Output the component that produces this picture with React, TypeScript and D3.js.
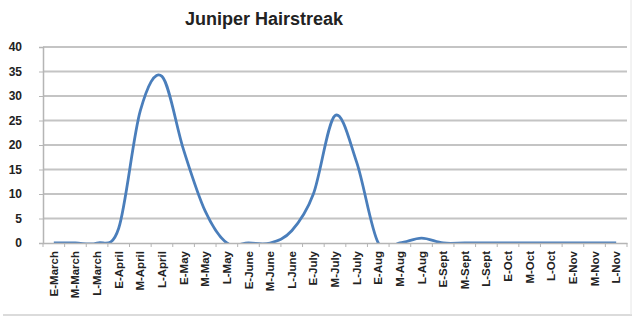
import React, { useEffect, useRef } from 'react';
import * as d3 from 'd3';

const periods = [
  'E-March', 'M-March', 'L-March', 'E-April', 'M-April', 'L-April', 'E-May', 'M-May', 'L-May',
  'E-June', 'M-June', 'L-June', 'E-July', 'M-July', 'L-July', 'E-Aug', 'M-Aug', 'L-Aug',
  'E-Sept', 'M-Sept', 'L-Sept', 'E-Oct', 'M-Oct', 'L-Oct', 'E-Nov', 'M-Nov', 'L-Nov',
];
const counts = [0, 0, 0, 3, 27, 34, 19, 6.5, 0, 0, 0, 2.5, 10, 26, 16.5, 0, 0, 1, 0, 0, 0, 0, 0, 0, 0, 0, 0];
const yTicks = [0, 5, 10, 15, 20, 25, 30, 35, 40];

function App(): JSX.Element {
  const svgRef = useRef() as React.RefObject<SVGSVGElement>;

  useEffect(() => {
    document.body.style.margin = '0';
    const svg = d3.select(svgRef.current);
    svg.selectAll('*').remove();

    const margin = { top: 47, left: 43, right: 627, bottom: 243 };

    const x = d3.scaleBand().domain(periods).range([margin.left, margin.right]);
    const y = d3.scaleLinear().domain([0, 40]).range([margin.bottom, margin.top]);

    // plot area clip (Excel hides the smoothing overshoot below 0)
    svg.append('defs').append('clipPath')
      .attr('id', 'plotClip')
      .append('rect')
      .attr('x', margin.left).attr('y', margin.top - 10)
      .attr('width', margin.right - margin.left)
      .attr('height', margin.bottom - margin.top + 10);

    // outer border bits
    svg.append('line')
      .attr('x1', 3).attr('x2', 632).attr('y1', 315).attr('y2', 315)
      .attr('stroke', '#cfcfcf').attr('stroke-width', 1.5);
    svg.append('line')
      .attr('x1', 631).attr('x2', 631).attr('y1', 0).attr('y2', 315)
      .attr('stroke', '#e6e6e6').attr('stroke-width', 1);

    // title
    svg.append('text')
      .attr('x', 264).attr('y', 25)
      .attr('text-anchor', 'middle')
      .attr('font-family', 'Liberation Sans, Arial, sans-serif')
      .attr('font-weight', 'bold')
      .attr('font-size', 18)
      .attr('fill', '#222')
      .text('Juniper Hairstreak');

    // gridlines
    svg.append('g')
      .selectAll('line')
      .data(yTicks.filter(d => d > 0))
      .join('line')
      .attr('x1', margin.left).attr('x2', margin.right)
      .attr('y1', d => y(d)).attr('y2', d => y(d))
      .attr('stroke', '#c4c4c4').attr('stroke-width', 1.8);

    // y axis
    const yAxis = svg.append('g')
      .attr('transform', `translate(${margin.left},0)`)
      .call(d3.axisLeft(y).tickValues(yTicks).tickSize(4).tickPadding(17));
    yAxis.select('.domain').attr('stroke', '#b5b5b5').attr('stroke-width', 1.5);
    yAxis.selectAll('.tick line').attr('stroke', '#b5b5b5');
    yAxis.selectAll('text')
      .attr('font-family', 'Liberation Sans, Arial, sans-serif')
      .attr('font-weight', 'bold')
      .attr('font-size', 12)
      .attr('fill', '#222');

    // x axis
    const xAxis = svg.append('g')
      .attr('transform', `translate(0,${margin.bottom})`)
      .call(d3.axisBottom(x).tickSize(0).tickPadding(0));
    xAxis.select('.domain').attr('stroke', '#b5b5b5').attr('stroke-width', 1.5);
    xAxis.selectAll('.tick text')
      .attr('transform', 'rotate(-90)')
      .attr('text-anchor', 'end')
      .attr('x', -8)
      .attr('y', 0)
      .attr('dy', '0.35em')
      .attr('font-family', 'Liberation Sans, Arial, sans-serif')
      .attr('font-weight', 'bold')
      .attr('font-size', 11.5)
      .attr('fill', '#222');

    // category boundary ticks
    svg.append('g')
      .selectAll('line')
      .data(d3.range(periods.length + 1))
      .join('line')
      .attr('x1', i => margin.left + i * x.step())
      .attr('x2', i => margin.left + i * x.step())
      .attr('y1', margin.bottom).attr('y2', margin.bottom + 4)
      .attr('stroke', '#b5b5b5');

    // line, smoothed like Excel
    const line = d3.line<number>()
      .x((_, i) => (x(periods[i]) ?? 0) + x.bandwidth() / 2)
      .y(d => y(d))
      .curve(d3.curveCardinal.tension(0));

    svg.append('path')
      .datum(counts)
      .attr('clip-path', 'url(#plotClip)')
      .attr('fill', 'none')
      .attr('stroke', '#4a7ebb')
      .attr('stroke-width', 2.8)
      .attr('d', line);

    xAxis.raise();
  }, []);

  return (
    <div style={{ position: 'absolute', left: 0, top: 0 }}>
      <svg ref={svgRef} width={637} height={324} style={{ display: 'block', background: '#fff' }}></svg>
    </div>
  );
}

export default App;
